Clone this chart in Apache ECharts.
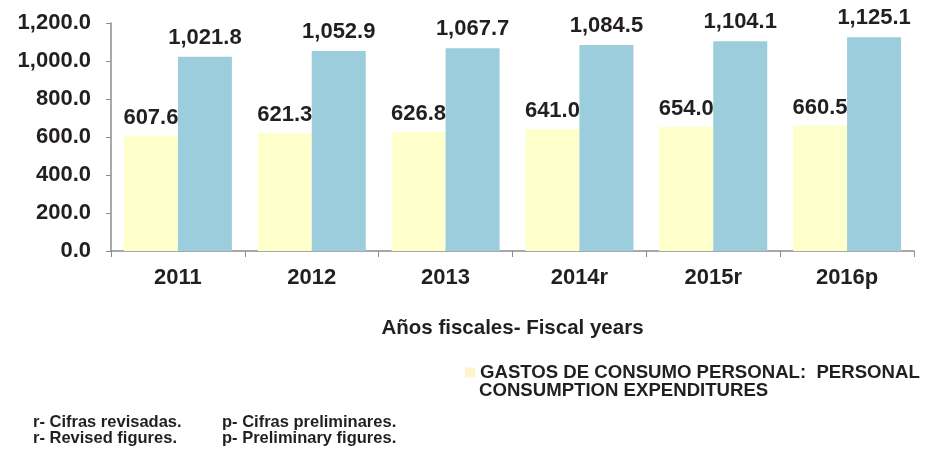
<!DOCTYPE html>
<html>
<head>
<meta charset="utf-8">
<script src="https://cdn.jsdelivr.net/npm/echarts@6/dist/echarts.min.js"></script>
<style>
  html, body { margin: 0; padding: 0; background: #fff; }
  #chart { width: 928px; height: 456px; }
</style>
</head>
<body>
<div id="chart"></div>
<script>
// datos del gráfico
var years = ['2011', '2012', '2013', '2014r', '2015r', '2016p'];
var gastosConsumo = [607.6, 621.3, 626.8, 641.0, 654.0, 660.5];
var otraSerie = [1021.8, 1052.9, 1067.7, 1084.5, 1104.1, 1125.1];
var yTicks = [0, 200, 400, 600, 800, 1000, 1200];

var legendName = 'GASTOS DE CONSUMO PERSONAL:  PERSONAL';
var legendLine2 = 'CONSUMPTION EXPENDITURES';
var fontFam = '"Liberation Sans", Arial, sans-serif';
var textColor = '#231f20';

function fmt(v) {
  return Number(v).toLocaleString('en-US', { minimumFractionDigits: 1, maximumFractionDigits: 1 });
}

var chart = echarts.init(document.getElementById('chart'));

chart.setOption({
  animation: false,
  textStyle: { fontFamily: fontFam },
  grid: { left: 111, right: 14, top: 23, bottom: 205 },
  legend: {
    data: [{ name: legendName, itemStyle: { color: '#fff4c8' } }],
    left: 460,
    top: 358,
    itemWidth: 10,
    itemHeight: 10,
    icon: 'rect',
    textStyle: { fontSize: 18.6, fontWeight: 'bold', color: textColor, fontFamily: fontFam }
  },
  xAxis: {
    type: 'category',
    data: years,
    axisLine: { lineStyle: { color: '#8c8c8c', width: 1.5 } },
    axisTick: { show: true, length: 6, lineStyle: { color: '#8c8c8c' } },
    axisLabel: { fontSize: 22, fontWeight: 'bold', color: textColor, margin: 16 },
    name: 'Años fiscales- Fiscal years',
    nameLocation: 'middle',
    nameGap: 67,
    nameTextStyle: { fontSize: 20.5, fontWeight: 'bold', color: textColor }
  },
  yAxis: {
    type: 'value',
    min: yTicks[0],
    max: yTicks[yTicks.length - 1],
    interval: 200,
    splitLine: { show: false },
    axisLine: { show: true, lineStyle: { color: '#8c8c8c', width: 1.5 } },
    axisTick: { show: true, length: 5, lineStyle: { color: '#8c8c8c' } },
    axisLabel: { fontSize: 22, fontWeight: 'bold', color: textColor, margin: 20, formatter: fmt }
  },
  series: [
    {
      name: legendName,
      type: 'bar',
      data: gastosConsumo,
      barWidth: 54,
      barGap: '0%',
      itemStyle: { color: '#ffffcc' },
      label: {
        show: true, position: 'top', distance: 7,
        fontSize: 22, fontWeight: 'bold', color: textColor,
        formatter: function (p) { return fmt(p.value); }
      }
    },
    {
      name: 'Otra',
      type: 'bar',
      data: otraSerie,
      barWidth: 54,
      barGap: '0%',
      itemStyle: { color: '#9bcddc' },
      label: {
        show: true, position: 'top', distance: 8,
        fontSize: 22, fontWeight: 'bold', color: textColor,
        formatter: function (p) { return fmt(p.value); }
      }
    }
  ],
  graphic: [
    { type: 'text', left: 479, top: 381, style: { text: legendLine2, font: 'bold 18.6px ' + fontFam, fill: textColor } },
    { type: 'text', left: 33, top: 414, style: { text: 'r- Cifras revisadas.', font: 'bold 16.5px ' + fontFam, fill: textColor } },
    { type: 'text', left: 33, top: 430, style: { text: 'r- Revised figures.', font: 'bold 16.5px ' + fontFam, fill: textColor } },
    { type: 'text', left: 222, top: 414, style: { text: 'p- Cifras preliminares.', font: 'bold 16.5px ' + fontFam, fill: textColor } },
    { type: 'text', left: 222, top: 430, style: { text: 'p- Preliminary figures.', font: 'bold 16.5px ' + fontFam, fill: textColor } }
  ]
});
</script>
</body>
</html>
